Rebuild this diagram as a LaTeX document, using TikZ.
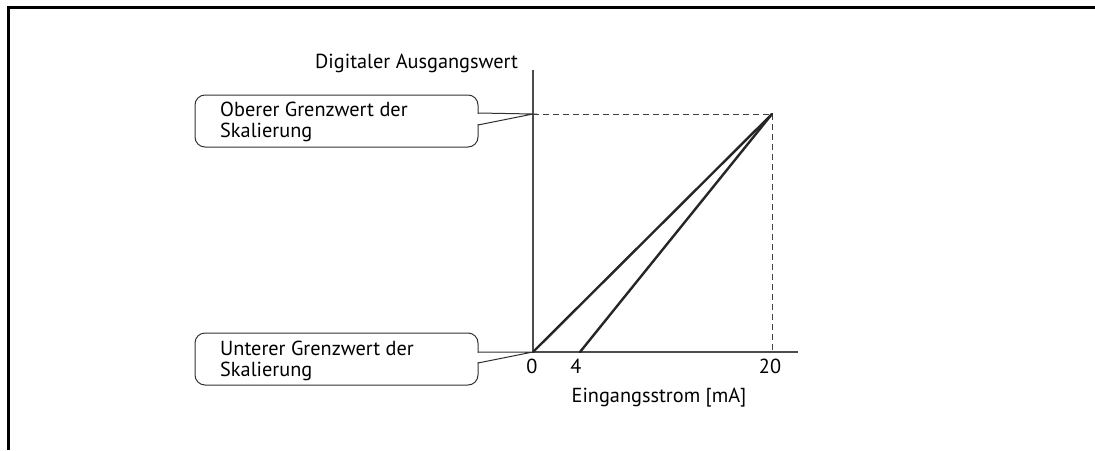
\documentclass[tikz,border=0pt]{standalone}
\usepackage{fontspec}
\setmainfont{PT Sans}
\begin{document}
\begin{tikzpicture}[x=1pt,y=-1pt,
  frame/.style={line width=2.2pt,black},
  axis/.style={line width=1.4pt,black!70},
  curve/.style={line width=2.4pt,black!85},
  guide/.style={line width=1pt,black!75,dash pattern=on 6pt off 4pt},
  callout/.style={line width=1pt,black!80},
  bubble/.style={callout,rounded corners=10pt},
  lbl/.style={inner sep=0pt,font=\fontsize{20.3}{21}\selectfont},
  calltext/.style={lbl,align=left,anchor=base west}]
\useasboundingbox (0,0) rectangle (1095,450);

% outer frame (left and top edge only)
\draw[frame] (8.5,450) -- (8.5,7.5) -- (1095,7.5);

% coordinates of the chart
\coordinate (O) at (533,352);
\coordinate (ytop) at (533,70);
\coordinate (xend) at (798,352);
\coordinate (x4) at (580,352);
\coordinate (x20) at (772,352);
\coordinate (ymax) at (533,114);
\coordinate (P) at (772,114);

% guide lines to the upper end point
\draw[guide] (ymax) -- (P);
\draw[guide] (P) -- (x20);

% axes
\draw[axis] (ytop) -- (O) -- (xend);

% characteristic lines 0..20 mA and 4..20 mA
\draw[curve,line cap=round] (O) -- (P);
\draw[curve,line cap=round] (x4) -- (P);

% axis labels
\node[lbl,anchor=base west] (ylabel) at (315,68) {Digitaler Ausgangswert};
\node[lbl,anchor=base] (t0) at (532,373) {0};
\node[lbl,anchor=base] (t4) at (576,373) {4};
\node[lbl,anchor=base] (t20) at (770,373) {20};
\node[lbl,anchor=base] (xlabel) at (659,402) {Eingangsstrom [mA]};

% callout: upper limit
\draw[bubble] (195,95) rectangle (478,147);
\fill[white] (476.5,113.6) rectangle (479.5,124.4);
\draw[callout] (478,113) -- (ymax) -- (478,125);
\node[calltext] (upper) at (220,137) {Oberer Grenzwert der\\Skalierung};

% callout: lower limit
\draw[bubble] (195,333) rectangle (478,385);
\fill[white] (476.5,352.6) rectangle (479.5,362.4);
\draw[callout] (478,352) -- (O) -- (478,363);
\node[calltext] (lower) at (220,376) {Unterer Grenzwert der\\Skalierung};
\end{tikzpicture}
\end{document}
